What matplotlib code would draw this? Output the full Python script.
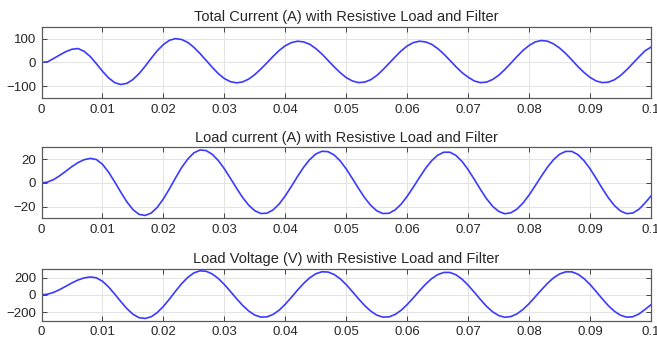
import numpy as np
import matplotlib
matplotlib.use('Agg')
import matplotlib.pyplot as plt

plt.rcParams['font.family'] = ['Liberation Sans', 'DejaVu Sans']

# time axis (s), sampled every 1 ms
t = np.arange(101) / 1000.0

# values, one per ms
total_current = [
    0, 3, 17, 32, 46, 56, 59, 47, 25, -5,
    -37, -65, -85, -93, -88, -72, -47, -16, 18, 50,
    76, 94, 101, 97, 85, 64, 38, 9, -20, -47,
    -68, -81, -86, -82, -70, -51, -27, -1, 26, 51,
    71, 84, 90, 87, 77, 59, 36, 9, -18, -43,
    -64, -78, -85, -83, -73, -55, -31, -4, 23, 49,
    70, 84, 90, 87, 77, 59, 36, 9, -18, -43,
    -62, -78, -85, -83, -72, -54, -30, -3, 25, 51,
    72, 87, 93, 90, 79, 61, 38, 11, -17, -42,
    -63, -78, -85, -83, -73, -55, -31, -4, 23, 49, 65,
]

load_current = [
    0, 0.8, 2.9, 6.2, 10, 13.9, 17.3, 19.7, 20.8, 19.8,
    15.8, 9.2, 1.0, -7.7, -15.9, -22.5, -26.5, -27.4, -25.4, -20.5,
    -13.4, -4.8, 4.4, 13.1, 20.3, 25.5, 27.9, 27.4, 24.3, 19,
    12, 3.9, -4.4, -12.3, -18.8, -23.5, -25.8, -25.5, -22.7, -17.7,
    -10.8, -2.8, 5.5, 13.3, 19.8, 24.5, 26.8, 26.5, 23.7, 18.7,
    11.8, 3.8, -4.5, -12.3, -18.8, -23.5, -25.8, -25.6, -22.8, -17.9,
    -11.2, -3.5, 4.6, 12.3, 18.8, 23.5, 26, 26, 23.3, 18.2,
    11.2, 3.1, -5.3, -13.2, -19.6, -24, -26, -25.2, -22.1, -16.9,
    -10.1, -2.3, 5.7, 13.3, 19.7, 24.3, 26.7, 26.7, 24, 18.9,
    12, 3.9, -4.6, -12.5, -19.1, -23.7, -25.9, -25.4, -22.3, -17, -11,
]

load_voltage = [
    0, 8, 29, 62, 100, 139, 173, 197, 208, 198,
    158, 92, 10, -77, -159, -225, -265, -274, -254, -205,
    -134, -48, 44, 131, 203, 255, 279, 274, 243, 190,
    120, 39, -44, -123, -188, -235, -258, -255, -227, -177,
    -108, -28, 55, 133, 198, 245, 268, 265, 237, 187,
    118, 38, -45, -123, -188, -235, -258, -256, -228, -179,
    -112, -35, 46, 123, 188, 235, 260, 260, 233, 182,
    112, 31, -53, -132, -196, -240, -260, -252, -221, -169,
    -101, -23, 57, 133, 197, 243, 267, 267, 240, 189,
    120, 39, -46, -125, -191, -237, -259, -254, -223, -170, -115,
]

titles = [
    'Total Current (A) with Resistive Load and Filter',
    'Load current (A) with Resistive Load and Filter',
    'Load Voltage (V) with Resistive Load and Filter',
]
series = [total_current, load_current, load_voltage]
ylims = [150, 30, 300]
yticks = [[-100, 0, 100], [-20, 0, 20], [-200, 0, 200]]
xticks = [i / 100 for i in range(11)]
xticklabels = ['0'] + ['0.0%d' % i for i in range(1, 10)] + ['0.1']

fig = plt.figure(figsize=(6.57, 3.43), dpi=100)
# [left, bottom, width, height] in figure fractions
boxes = [
    [0.0632, 0.7143, 0.9277, 0.207],
    [0.0632, 0.3630, 0.9277, 0.207],
    [0.0632, 0.0650, 0.9277, 0.1507],
]

txt = '#262626'
for box, y, title, lim, yt in zip(boxes, series, titles, ylims, yticks):
    ax = fig.add_axes(box)
    ax.plot(t, y, color='#3a3aff', linewidth=1.2)
    ax.set_xlim(0, 0.1)
    ax.set_ylim(-lim, lim)
    ax.set_xticks(xticks)
    ax.set_xticklabels(xticklabels)
    ax.set_yticks(yt)
    ax.set_title(title, fontsize=10.5, color=txt, pad=4)
    ax.grid(True, color='#e3e3e3', linewidth=0.7)
    ax.set_axisbelow(True)
    ax.tick_params(direction='in', length=3.5, width=0.7, colors='#404040',
                   labelcolor=txt, labelsize=9.5, top=True, right=True, pad=4)
    for sp in ax.spines.values():
        sp.set_color('#5a5a5a')
        sp.set_linewidth(0.9)

fig.savefig('out.png', dpi=100, facecolor='white')
